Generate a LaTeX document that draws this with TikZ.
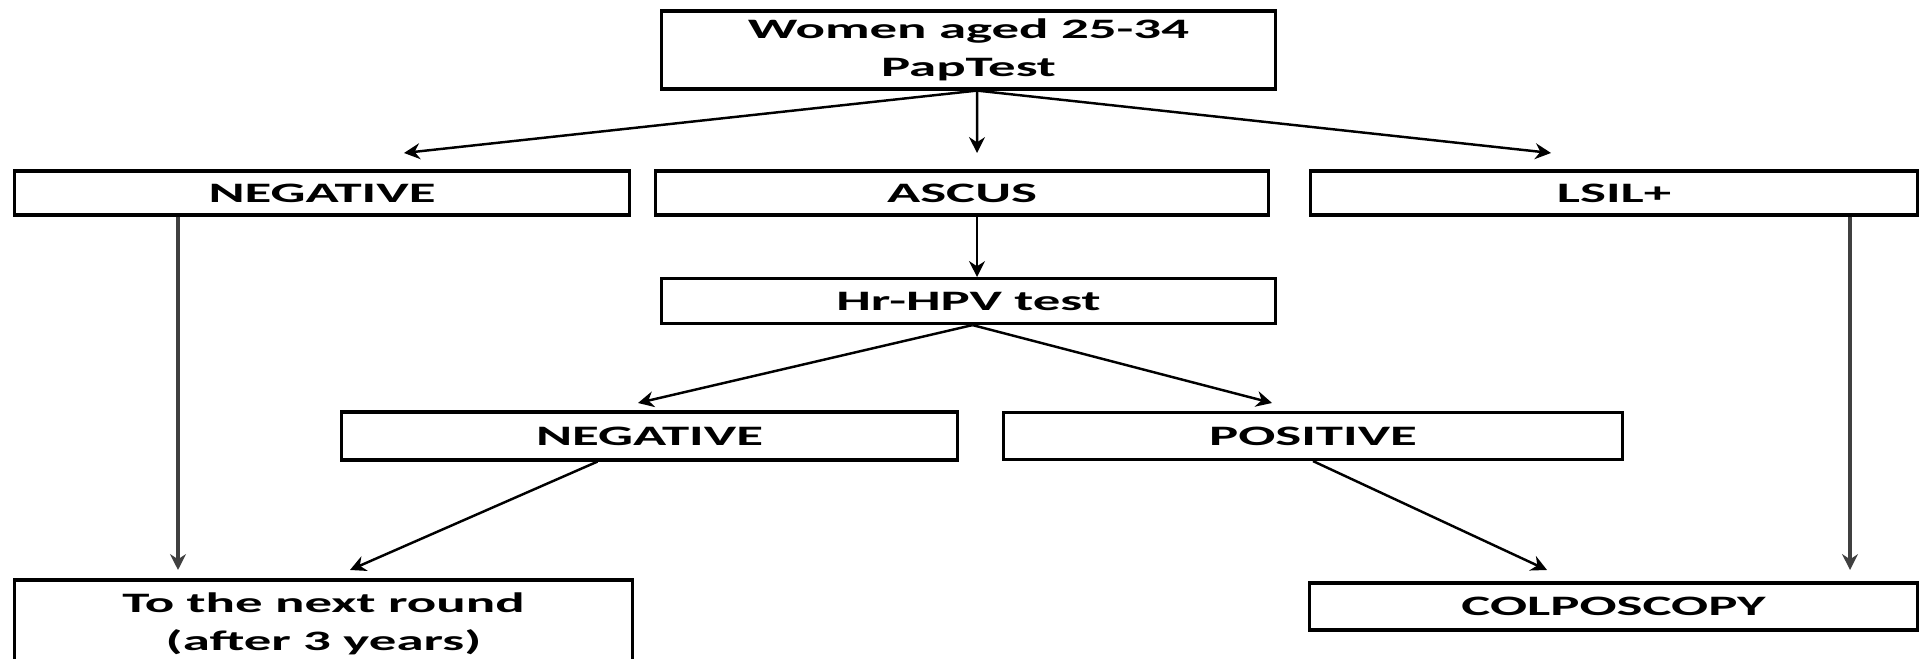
\documentclass[tikz,border=0pt]{standalone}
\usepackage{fontspec}
\newfontfamily\boxfont{Carlito}[FakeStretch=1.95]
\usetikzlibrary{arrows.meta}

\tikzstyle{box}=[rectangle,draw=black,line width=0.9pt,inner sep=0pt,align=center,font=\boxfont\bfseries\fontsize{8}{10.8}\selectfont]
\tikzstyle{arr}=[-{Stealth[length=4.5pt,width=4.5pt]},line width=0.7pt]
\tikzstyle{drop}=[-{Stealth[length=4.5pt,width=4.5pt]},line width=1.1pt,draw=black!75]

\begin{document}
\begin{tikzpicture}[x=0.01cm,y=-0.01cm]
       \useasboundingbox (0,0) rectangle (1919,659);
       \clip (0,0) rectangle (1919,659);

       % boxes
       \node[box,minimum width=6.13cm,minimum height=0.78cm] (pap) at (968.5,50) {Women aged 25-34\\PapTest};
       \node[box,minimum width=6.14cm,minimum height=0.44cm] (negA) at (322,193) {NEGATIVE};
       \node[box,minimum width=6.12cm,minimum height=0.44cm] (ascus) at (962,193) {ASCUS};
       \node[box,minimum width=6.06cm,minimum height=0.44cm] (lsil) at (1614,193) {LSIL+};
       \node[box,minimum width=6.13cm,minimum height=0.45cm] (hpv) at (968.5,301) {Hr-HPV test};
       \node[box,minimum width=6.15cm,minimum height=0.48cm] (negB) at (649.5,436) {NEGATIVE};
       \node[box,minimum width=6.18cm,minimum height=0.47cm] (pos) at (1313,436) {POSITIVE};
       \node[box,minimum width=6.17cm,minimum height=0.88cm] (next) at (323.5,624) {To the next round\\(after 3 years)};
       \node[box,minimum width=6.07cm,minimum height=0.47cm] (colpo) at (1613.5,606.5) {COLPOSCOPY};

       % arrow tips
       \foreach \x/\y/\name in {404/153/tNegA, 977/153/tAscus, 1551/153/tLsil, 977/277/tHpv, 638/403/tNegB, 1272/403/tPos, 178/570/tNextA, 350/570/tNextB, 1547/570/tColA, 1850/570/tColB} {
           \coordinate (\name) at (\x,\y);
       }

       \foreach \tip in {tNegA,tAscus,tLsil}
           \draw[arr] ([xshift=0.085cm]pap.south) -- (\tip);
       \draw[arr] (ascus.south -| tHpv) -- (tHpv);
       \foreach \tip in {tNegB,tPos}
           \draw[arr] ([xshift=0.04cm]hpv.south) -- (\tip);
       \draw[drop] (negA.south -| tNextA) -- (tNextA);
       \draw[arr] ([xshift=-0.52cm]negB.south) -- (tNextB);
       \draw[arr] (pos.south) -- (tColA);
       \draw[drop] (lsil.south -| tColB) -- (tColB);

\end{tikzpicture}
\end{document}
